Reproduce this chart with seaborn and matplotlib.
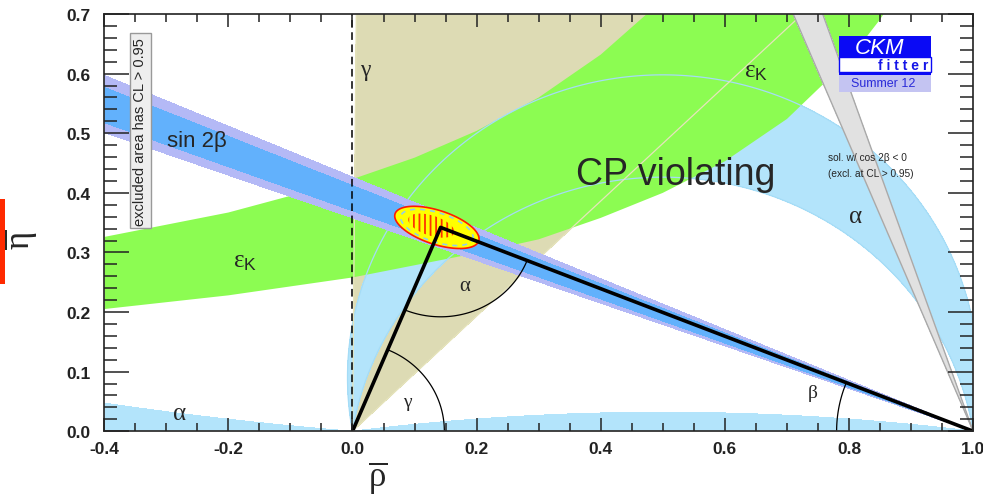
import numpy as np
import matplotlib
matplotlib.use("Agg")
from matplotlib import pyplot as plt
from matplotlib.patches import Polygon, Rectangle
from matplotlib.ticker import MultipleLocator, FormatStrFormatter
import seaborn as sns

# ---- values ----
x_ticks = [-0.4, -0.2, 0.0, 0.2, 0.4, 0.6, 0.8, 1.0]
y_ticks = [0.0, 0.1, 0.2, 0.3, 0.4, 0.5, 0.6, 0.7]

apex = [0.142, 0.342]  # rho-bar, eta-bar of the triangle apex

# angle constraints in degrees
alpha_main = [79.8, 99.1]
alpha_flat = [172.7, 180.01]   # near eta = 0, 0 < rho < 1
alpha_left = [-0.01, 4.8]      # near eta = 0, rho < 0
gamma_band = [44.0, 89.5]
beta_outer = [19.7, 23.1]      # sin 2beta, outer band
beta_inner = [20.3, 22.4]      # sin 2beta, inner band
beta_cos_neg = [67.5, 70.9]    # sol. w/ cos 2beta < 0

# epsilon_K band edges
epsk_low_rho = [-0.4, -0.2, 0.0, 0.2, 0.3, 0.4, 0.5, 0.6, 0.7, 0.8, 0.85, 0.88]
epsk_low_eta = [0.205, 0.228, 0.258, 0.299, 0.322, 0.358, 0.400, 0.453, 0.524, 0.624, 0.691, 0.739]
epsk_up_rho = [-0.4, -0.2, 0.0, 0.1, 0.2, 0.3, 0.4, 0.474, 0.52]
epsk_up_eta = [0.326, 0.367, 0.423, 0.459, 0.504, 0.560, 0.632, 0.700, 0.751]

# global fit region: centre + two half-axis vectors
fit_center = [0.136, 0.342]
fit_axes = [[0.0674, -0.0228], [0.0085, 0.0271]]
fit68_center = [0.127, 0.345]
fit68_axes = [[0.0368, -0.0124], [0.0050, 0.0160]]

# ---- style ----
sns.set_style("ticks")
plt.rcParams['font.family'] = ['Liberation Sans', 'DejaVu Sans']
plt.rcParams['axes.unicode_minus'] = False
plt.rcParams['mathtext.fontset'] = 'custom'
plt.rcParams['mathtext.rm'] = 'Liberation Serif'
plt.rcParams['mathtext.it'] = 'Liberation Serif'
plt.rcParams['mathtext.sf'] = 'Liberation Sans'
plt.rcParams['hatch.linewidth'] = 1.3

fig = plt.figure(figsize=(9.83, 5.02), dpi=100)
ax = fig.add_axes([0.106, 0.139, 0.884, 0.831])

# grid of the plane for the angle constraints
rho = np.linspace(-0.4, 1.0, 1401)
eta = np.linspace(0.0, 0.7, 701)
R, E = np.meshgrid(rho, eta)
with np.errstate(invalid="ignore", divide="ignore"):
    cos_a = (E ** 2 - R * (1 - R)) / (np.hypot(R, E) * np.hypot(1 - R, E))
alpha = np.ma.masked_invalid(np.degrees(np.arccos(np.clip(cos_a, -1, 1))))
gamma = np.degrees(np.arctan2(E, R))
beta = np.degrees(np.arctan2(E, 1 - R))

# gamma
ax.contourf(R, E, gamma, levels=gamma_band, colors=['#dddbb4'], zorder=1)
# alpha
for band in (alpha_main, alpha_flat, alpha_left):
    ax.contourf(R, E, alpha, levels=band, colors=['#b3e4fb'], zorder=2)
# epsilon_K
green = list(zip(epsk_low_rho, epsk_low_eta)) + list(zip(epsk_up_rho[::-1], epsk_up_eta[::-1]))
ax.add_patch(Polygon(green, closed=True, fc='#8cfc52', ec='none', zorder=3))
ax.contour(R, E, alpha, levels=alpha_main, colors=['#a5dcf6'], linewidths=0.9, zorder=3.5)
ax.contour(R, E, gamma, levels=gamma_band, colors=['#e6e4bc'], linewidths=0.9, zorder=3.5)
# sin 2beta
ax.contourf(R, E, beta, levels=beta_outer, colors=['#b4b9f6'], zorder=4)
ax.contourf(R, E, beta, levels=beta_inner, colors=['#62b1fc'], zorder=4.1)
ax.contourf(R, E, beta, levels=beta_cos_neg, colors=['#e1e1e1'], zorder=4.2)
ax.contour(R, E, beta, levels=beta_cos_neg, colors=['#a9a9a9'], linewidths=1.0, zorder=4.3)

ax.axvline(0.0, color='black', lw=1.1, ls=(0, (5, 3)), zorder=5)

# fit ellipse
t = np.linspace(0, 2 * np.pi, 200)


def ellipse_xy(center, axes_, scale=1.0):
    u, v = np.array(axes_[0]), np.array(axes_[1])
    return np.array(center) + scale * (np.outer(np.cos(t), u) + np.outer(np.sin(t), v))


ax.add_patch(Polygon(ellipse_xy(fit_center, fit_axes), fc='#ffff00', ec='#ff1a00', lw=1.2, zorder=6))
ax.add_patch(Polygon(ellipse_xy(fit68_center, fit68_axes), fill=False, hatch='|||',
                     ec='#ff3300', lw=0, zorder=6.1))
dash = ellipse_xy(fit_center, fit_axes, 0.86)
ax.plot(dash[:, 0], dash[:, 1], color='#8fcdee', lw=1.2, ls=(0, (3, 3)), zorder=6.2)

# unitarity triangle
sns.lineplot(x=[0.0, apex[0], 1.0], y=[0.0, apex[1], 0.0], sort=False, color='black',
             linewidth=2.6, ax=ax, zorder=8)

# angle arcs
ang_g = np.arctan2(apex[1], apex[0])
th = np.linspace(0, ang_g, 60)
ax.plot(0.148 * np.cos(th), 0.148 * np.sin(th), color='black', lw=0.9, zorder=7)
th = np.linspace(np.arctan2(-apex[1], -apex[0]), np.arctan2(-apex[1], 1 - apex[0]), 80)
ax.plot(apex[0] + 0.15 * np.cos(th), apex[1] + 0.15 * np.sin(th), color='black', lw=0.9, zorder=7)
th = np.linspace(np.arctan2(apex[1], apex[0] - 1), np.pi, 60)
ax.plot(1 + 0.22 * np.cos(th), 0.22 * np.sin(th), color='black', lw=0.9, zorder=7)

# labels in the plane
serif = 'Liberation Serif'
ax.text(-0.25, 0.488, 'sin 2β', fontsize=16, ha='center', va='center', zorder=9)
ax.text(-0.173, 0.287, r'$\varepsilon_{\mathsf{K}}$', fontsize=18, ha='center', va='center', zorder=9)
ax.text(0.650, 0.606, r'$\varepsilon_{\mathsf{K}}$', fontsize=18, ha='center', va='center', zorder=9)
ax.text(0.020, 0.607, 'γ', family=serif, fontsize=17, ha='center', va='center', zorder=9)
ax.text(-0.279, 0.030, 'α', family=serif, fontsize=18, ha='center', va='center', zorder=9)
ax.text(0.811, 0.361, 'α', family=serif, fontsize=18, ha='center', va='center', zorder=9)
ax.text(0.181, 0.245, 'α', family=serif, fontsize=15, ha='center', va='center', zorder=9)
ax.text(0.0886, 0.050, 'γ', family=serif, fontsize=14, ha='center', va='center', zorder=9)
ax.text(0.742, 0.065, 'β', family=serif, fontsize=14, ha='center', va='center', zorder=9)
ax.text(0.521, 0.431, 'CP violating', fontsize=27, ha='center', va='center', zorder=9)
ax.text(0.766, 0.460, 'sol. w/ cos 2β < 0', fontsize=7.3, ha='left', va='center', zorder=9)
ax.text(0.766, 0.434, '(excl. at CL > 0.95)', fontsize=7.3, ha='left', va='center', zorder=9)
ax.text(-0.3416, 0.504, 'excluded area has CL > 0.95', fontsize=10.5, rotation=90,
        ha='center', va='center', zorder=9,
        bbox=dict(boxstyle='square,pad=0.25', fc='#eeeeee', ec='#999999', lw=1))

# CKMfitter logo
logo_blue = '#0a0af5'
ax.add_patch(Rectangle((0.846, 0.896), 0.105, 0.052, transform=ax.transAxes, fc=logo_blue, ec='none', zorder=10))
ax.add_patch(Rectangle((0.846, 0.860), 0.105, 0.036, transform=ax.transAxes, fc='white', ec=logo_blue, lw=1, zorder=10))
ax.add_patch(Rectangle((0.846, 0.854), 0.105, 0.007, transform=ax.transAxes, fc=logo_blue, ec='none', zorder=10))
ax.add_patch(Rectangle((0.846, 0.814), 0.105, 0.040, transform=ax.transAxes, fc='#c4c4f2', ec='none', zorder=10))
ax.text(0.892, 0.921, 'CKM', transform=ax.transAxes, fontsize=16, style='italic', color='white',
        ha='center', va='center', zorder=11)
ax.text(0.948, 0.877, 'f i t t e r', transform=ax.transAxes, fontsize=10, fontweight='bold',
        color='#1515e8', ha='right', va='center', zorder=11)
ax.text(0.897, 0.834, 'Summer 12', transform=ax.transAxes, fontsize=9, color='#2a2ad8',
        ha='center', va='center', zorder=11)

# axes
ax.set_xlim(-0.4, 1.0)
ax.set_ylim(0.0, 0.7)
ax.set_xticks(x_ticks)
ax.set_yticks(y_ticks)
ax.xaxis.set_minor_locator(MultipleLocator(0.05))
ax.yaxis.set_minor_locator(MultipleLocator(0.02))
ax.xaxis.set_major_formatter(FormatStrFormatter('%.1f'))
ax.yaxis.set_major_formatter(FormatStrFormatter('%.1f'))
ax.tick_params(axis='both', which='both', direction='in', top=True, right=True,
               colors='#222222', width=1.1, labelsize=12.5)
ax.tick_params(axis='x', which='major', length=9.5, pad=7)
ax.tick_params(axis='x', which='minor', length=5.8)
ax.tick_params(axis='y', which='major', length=18, pad=10)
ax.tick_params(axis='y', which='minor', length=9.4)
for lab in ax.get_xticklabels() + ax.get_yticklabels():
    lab.set_fontweight('bold')
for s in ax.spines.values():
    s.set_linewidth(1.3)
    s.set_color('#333333')
    s.set_zorder(20)
ax.xaxis.set_zorder(20)
ax.yaxis.set_zorder(20)

ax.set_xlabel(r'$\overline{\rho}$', fontsize=25)
ax.set_ylabel(r'$\overline{\eta}$', fontsize=25)
ax.xaxis.label.set_va('center')
ax.yaxis.label.set_va('center')
ax.yaxis.label.set_ha('center')
ax.xaxis.set_label_coords(0.315, -0.108)
ax.yaxis.set_label_coords(-0.0967, 0.46)

# red marker on the left edge
fig.add_artist(Rectangle((0.0, 0.432), 0.0055, 0.17, transform=fig.transFigure,
                         fc='#ff2a00', ec='none'))

fig.savefig("out.png", dpi=100)
